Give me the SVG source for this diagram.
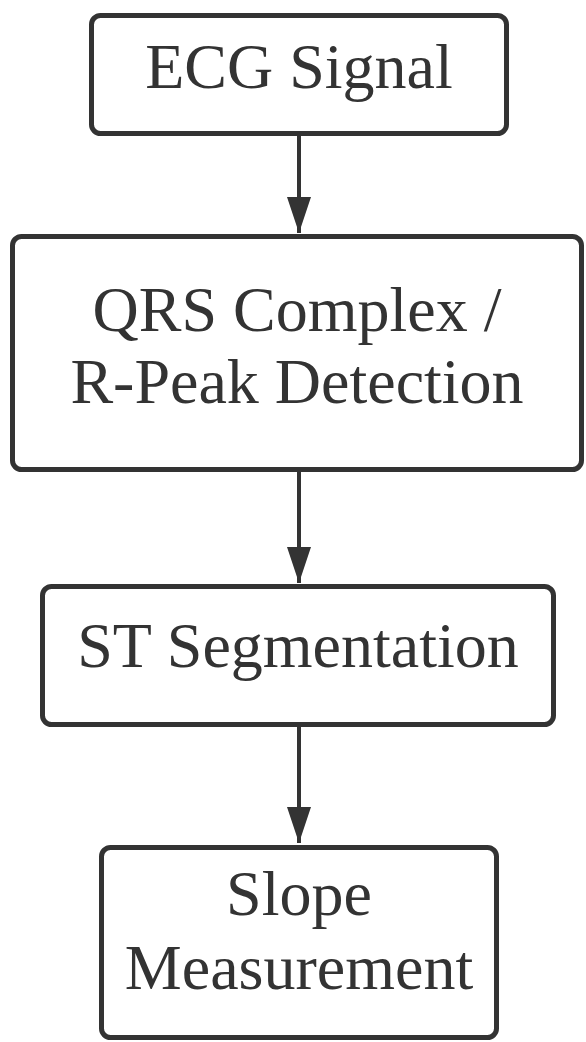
<svg xmlns="http://www.w3.org/2000/svg" width="586" height="1042" viewBox="0 0 586 1042">
<defs>
<marker id="ah" markerUnits="userSpaceOnUse" markerWidth="36" markerHeight="24" refX="36" refY="12" orient="auto" viewBox="0 0 36 24">
<path d="M0,0 L36,12 L0,24 Z" fill="#333333"/>
</marker>
<style>
.box{fill:#ffffff;stroke:#333333;stroke-width:5}
.edge{stroke:#333333;stroke-width:4;fill:none}
</style>
</defs>
<rect width="586" height="1042" fill="#ffffff"/>
<g id="connectors">
<line class="edge" x1="299" y1="136" x2="299" y2="233" marker-end="url(#ah)"/>
<line class="edge" x1="299" y1="472" x2="299" y2="583" marker-end="url(#ah)"/>
<line class="edge" x1="299" y1="727" x2="299" y2="843" marker-end="url(#ah)"/>
</g>
<g font-family="'Liberation Serif', 'Times New Roman', 'DejaVu Serif', serif" font-size="64" fill="#333333" text-anchor="middle">
<g id="node-ecg">
<rect class="box" x="91.5" y="15.5" width="415" height="118" rx="9"/>
<text x="299" y="88">ECG Signal</text>
</g>
<g id="node-qrs">
<rect class="box" x="12.5" y="236.5" width="569" height="233" rx="9"/>
<text x="297" y="331">QRS Complex /</text>
<text x="297" y="403">R-Peak Detection</text>
</g>
<g id="node-st">
<rect class="box" x="42.5" y="586.5" width="511" height="138" rx="9"/>
<text x="298" y="667">ST Segmentation</text>
</g>
<g id="node-slope">
<rect class="box" x="101.5" y="847.5" width="395" height="190" rx="9"/>
<text x="299" y="915">Slope</text>
<text x="299" y="989">Measurement</text>
</g>
</g>
</svg>
